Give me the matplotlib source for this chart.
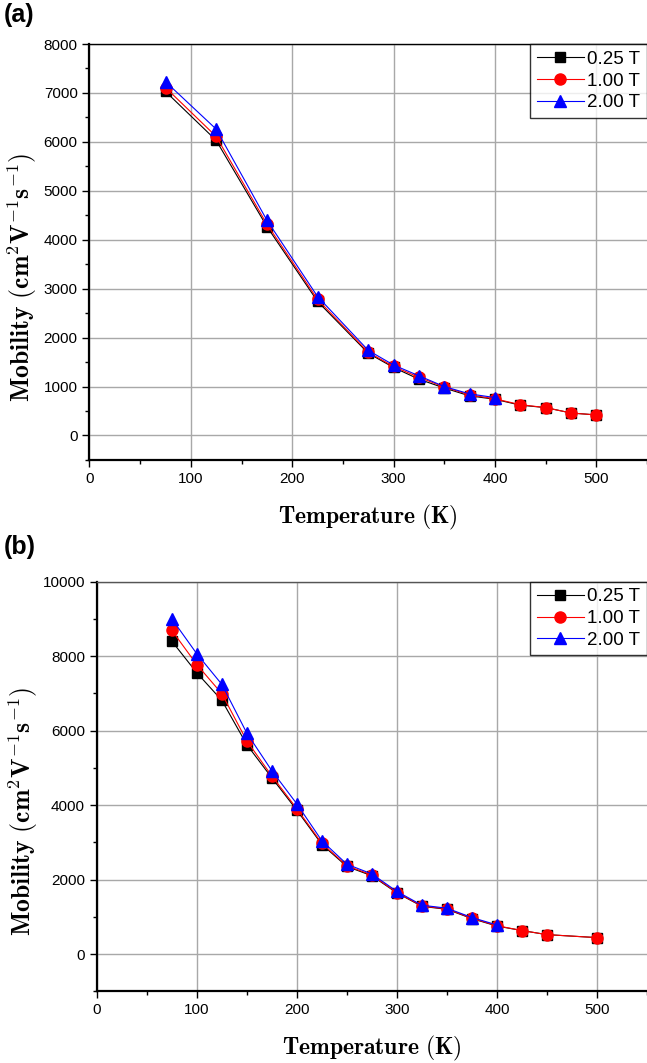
import numpy as np
import matplotlib
matplotlib.use("Agg")
import matplotlib.pyplot as plt
from matplotlib.ticker import MultipleLocator

plt.rcParams['font.family'] = ['Liberation Sans', 'DejaVu Sans']
plt.rcParams['mathtext.fontset'] = 'cm'

# Panel (a) data
temp_a = [75, 125, 175, 225, 275, 300, 325, 350, 375, 400, 425, 450, 475, 500]
temp_a_blue = [75, 125, 175, 225, 275, 300, 325, 350, 375, 400]
mob_a_025 = [7030, 6030, 4270, 2740, 1680, 1390, 1150, 970, 810, 740, 620, 570, 460, 420]
mob_a_100 = [7110, 6110, 4320, 2780, 1700, 1410, 1190, 990, 830, 750, 630, 570, 460, 420]
mob_a_200 = [7230, 6260, 4400, 2840, 1740, 1440, 1220, 1000, 850, 775]

# Panel (b) data
temp_b = [75, 100, 125, 150, 175, 200, 225, 250, 275, 300, 325, 350, 375, 400, 425, 450, 500]
temp_b_blue = [75, 100, 125, 150, 175, 200, 225, 250, 275, 300, 325, 350, 375, 400]
mob_b_025 = [8400, 7550, 6810, 5620, 4730, 3860, 2940, 2350, 2100, 1640, 1280, 1200, 950, 750, 630, 520, 440]
mob_b_100 = [8690, 7770, 6990, 5720, 4780, 3900, 2970, 2370, 2120, 1650, 1290, 1210, 960, 760, 630, 520, 440]
mob_b_200 = [9000, 8060, 7240, 5930, 4920, 4030, 3040, 2410, 2150, 1680, 1310, 1230, 980, 780]

labels = ['0.25 T', '1.00 T', '2.00 T']

fig = plt.figure(figsize=(6.47, 10.63), dpi=100)
ax1 = fig.add_axes([0.1383, 0.5673, 0.8617, 0.3913])
ax2 = fig.add_axes([0.1496, 0.0675, 0.8504, 0.3854])


def draw(ax, t, t_blue, y1, y2, y3, ymin, ymax, ystep, yminor, ylab_x):
    ax.plot(t, y1, '-s', color='black', lw=0.8, ms=7.5, label=labels[0])
    ax.plot(t, y2, '-o', color='red', lw=0.8, ms=8, label=labels[1])
    ax.plot(t_blue, y3, '-^', color='blue', lw=0.8, ms=8.5, label=labels[2])
    ax.set_xlim(0, 550)
    ax.set_ylim(ymin, ymax)
    ax.xaxis.set_major_locator(MultipleLocator(100))
    ax.xaxis.set_minor_locator(MultipleLocator(50))
    ax.yaxis.set_major_locator(MultipleLocator(ystep))
    ax.yaxis.set_minor_locator(MultipleLocator(yminor))
    ax.set_yticks(np.arange(0, ymax + 1, ystep))
    ax.grid(True, which='major', color='#a8a8a8', lw=1)
    ax.set_axisbelow(True)
    ax.tick_params(which='major', direction='out', length=5, width=1, labelsize=11)
    ax.tick_params(which='minor', direction='out', length=3, width=1)
    for s in ['left', 'bottom']:
        ax.spines[s].set_linewidth(1.6)
    ax.spines['top'].set_linewidth(1)
    ax.spines['right'].set_visible(False)
    ax.set_xlabel(r'$\mathbf{Temperature\ (K)}$', fontsize=17, labelpad=12)
    ax.set_ylabel(r'$\mathbf{Mobility\ (cm^{2}V^{-1}s^{-1})}$', fontsize=18.5)
    ax.yaxis.set_label_coords(ylab_x, 0.44)
    leg = ax.legend(loc='upper right', fontsize=13.5, frameon=True, fancybox=False,
                    borderaxespad=0, handlelength=2.5, labelspacing=0.25,
                    handletextpad=0.2, borderpad=0.35)
    leg.get_frame().set_edgecolor('black')
    leg.get_frame().set_linewidth(1)


draw(ax1, temp_a, temp_a_blue, mob_a_025, mob_a_100, mob_a_200, -500, 8000, 1000, 500, -0.09)
draw(ax2, temp_b, temp_b_blue, mob_b_025, mob_b_100, mob_b_200, -1000, 10000, 2000, 1000, -0.104)
ax2.spines['top'].set_color('#555555')

fig.text(0.006, 0.997, '(a)', fontsize=18, fontweight='bold', va='top')
fig.text(0.006, 0.497, '(b)', fontsize=18, fontweight='bold', va='top')

fig.savefig('out.png', dpi=100)
